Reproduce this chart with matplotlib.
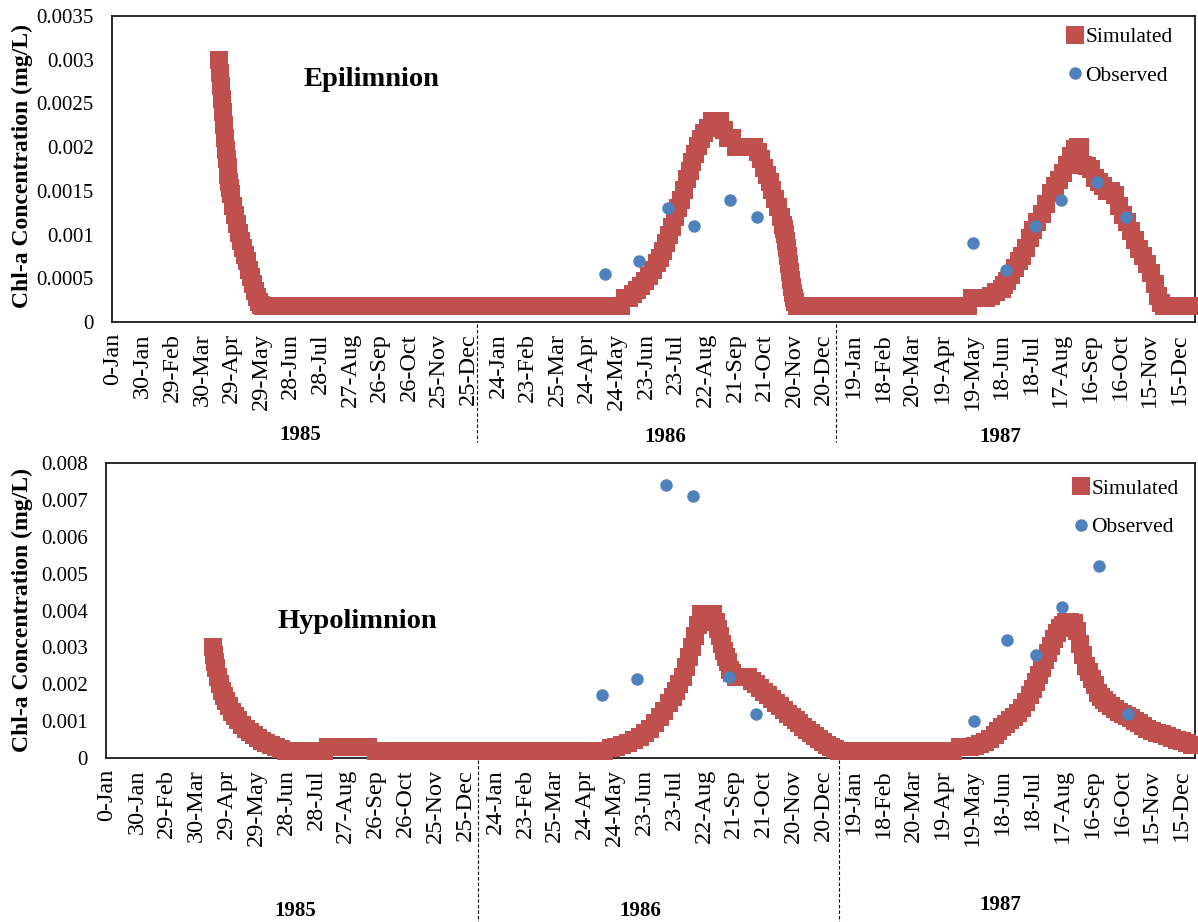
import matplotlib
matplotlib.use("Agg")
import matplotlib.pyplot as plt
from matplotlib.lines import Line2D
from matplotlib.ticker import FixedLocator

plt.rcParams['font.family'] = ['Liberation Serif', 'DejaVu Serif']

# Day numbers counted from 0-Jan-1985 (Excel serial style), one tick every 30 days
tick_days = list(range(0, 1081, 30))
tick_labels = ['0-Jan', '30-Jan', '29-Feb', '30-Mar', '29-Apr', '29-May', '28-Jun',
               '28-Jul', '27-Aug', '26-Sep', '26-Oct', '25-Nov', '25-Dec', '24-Jan',
               '23-Feb', '25-Mar', '24-Apr', '24-May', '23-Jun', '23-Jul', '22-Aug',
               '21-Sep', '21-Oct', '20-Nov', '20-Dec', '19-Jan', '18-Feb', '20-Mar',
               '19-Apr', '19-May', '18-Jun', '18-Jul', '17-Aug', '16-Sep', '16-Oct',
               '15-Nov', '15-Dec']
years = ['1985', '1986', '1987']

# Epilimnion, simulated Chl-a (mg/L)
epi_days = [107, 108, 109, 110, 111, 112, 113, 114, 115, 116, 117, 118, 119, 120,
            122, 124, 126, 128, 130, 132, 134, 136, 138, 140, 142, 144, 146, 148, 150, 152,
            160, 170, 180, 190, 200, 210, 220, 230, 240, 250, 260, 270, 280, 290, 300,
            310, 320, 330, 340, 350, 360, 370, 380, 390, 400, 410, 420, 430, 440, 450,
            460, 470, 480, 490, 500, 510,
            515, 519, 523, 527, 531, 535, 539, 543, 547, 551, 554, 557, 560, 563, 566,
            569, 572, 575, 578, 581, 584, 587, 590, 593, 596, 599, 603, 607, 611, 615,
            619, 623, 627, 631, 637, 643, 649, 653, 656, 659, 662, 665, 668, 671, 674,
            677, 679, 680, 681, 682, 683, 684, 685, 686, 687, 688, 689, 690, 691, 693,
            700, 710, 720, 730, 740, 750, 760, 770, 780, 790, 800, 810, 820, 830, 840,
            850, 860, 866,
            870, 875, 880, 884, 889, 894, 900, 903, 906, 910, 914, 918, 921, 925, 929,
            932, 936, 941, 945, 950, 954, 958, 962, 966, 970, 974, 977, 980, 983, 987,
            991, 995, 999, 1003, 1007, 1011, 1015, 1019, 1023, 1027, 1031, 1035, 1039,
            1043, 1047, 1051, 1055, 1059, 1062, 1065, 1070, 1080, 1090]
epi_sim = [0.0030, 0.00285, 0.0027, 0.00255, 0.0024, 0.00225, 0.0021, 0.00197, 0.00186,
           0.00177, 0.00168, 0.0016, 0.00153, 0.00146,
           0.00133, 0.00122, 0.00112, 0.00102, 0.00093, 0.00085, 0.00077, 0.0007, 0.0006,
           0.00052, 0.00044, 0.00036, 0.00029, 0.00023, 0.00019, 0.00018,
           0.00018, 0.00018, 0.00018, 0.00018, 0.00018, 0.00018, 0.00018, 0.00018,
           0.00018, 0.00018, 0.00018, 0.00018, 0.00018, 0.00018, 0.00018, 0.00018,
           0.00018, 0.00018, 0.00018, 0.00018, 0.00018, 0.00018, 0.00018, 0.00018,
           0.00018, 0.00018, 0.00018, 0.00018, 0.00018, 0.00018, 0.00018, 0.00018,
           0.00018, 0.00018, 0.00018, 0.00018,
           0.00018, 0.00027, 0.00028, 0.00032, 0.00037, 0.00041, 0.00047, 0.00053,
           0.00059, 0.00067, 0.00073, 0.00081, 0.0009, 0.00099, 0.00109, 0.0012, 0.0013,
           0.0014, 0.00151, 0.00163, 0.00173, 0.00183, 0.00192, 0.00201, 0.00209,
           0.00216, 0.00222, 0.0023, 0.0023, 0.0023, 0.0022, 0.0021, 0.0021, 0.0020,
           0.0020, 0.0020, 0.0020, 0.00195, 0.00186, 0.00176, 0.00168, 0.0016, 0.00151,
           0.00141, 0.00131, 0.0012, 0.00111, 0.00106, 0.00101, 0.00093, 0.00085,
           0.00075, 0.00066, 0.00057, 0.00048, 0.0004, 0.00033, 0.00028, 0.00023, 0.00018,
           0.00018, 0.00018, 0.00018, 0.00018, 0.00018, 0.00018, 0.00018, 0.00018,
           0.00018, 0.00018, 0.00018, 0.00018, 0.00018, 0.00018, 0.00018, 0.00018,
           0.00018, 0.00018,
           0.00027, 0.00027, 0.00027, 0.00027, 0.0003, 0.00034, 0.00038, 0.00042,
           0.00047, 0.00054, 0.00062, 0.0007, 0.00076, 0.00085, 0.00096, 0.00105,
           0.00114, 0.00124, 0.00135, 0.00147, 0.00155, 0.00162, 0.0017, 0.0018, 0.0019,
           0.00198, 0.002, 0.002, 0.0018, 0.00178, 0.00175, 0.00165, 0.0016, 0.00155,
           0.0015, 0.0015, 0.00145, 0.00133, 0.00122, 0.00114, 0.00104, 0.00094,
           0.00084, 0.00075, 0.00066, 0.00056, 0.00043, 0.0003, 0.00022, 0.00018,
           0.00018, 0.00018, 0.00018]

# Hypolimnion, simulated Chl-a (mg/L)
hypo_days = [107, 108, 109, 110, 112, 114, 116, 118, 120, 123, 126, 129, 132, 136, 140,
             144, 148, 152, 156, 160, 165, 170, 175, 180, 188, 196, 204, 212, 218,
             222, 226, 232, 240, 248, 256, 262,
             270, 280, 290, 300, 310, 320, 330, 340, 350, 360, 370, 380, 390, 400, 410,
             420, 430, 440, 450, 460, 470, 480, 490, 500,
             507, 512, 518, 524, 530, 536, 541, 546, 551, 556, 560, 565, 569, 572, 575,
             579, 582, 585, 588, 591, 594, 597, 601, 605, 609, 612, 614, 616, 618, 620,
             622, 624, 626, 628, 632, 636, 640, 644, 648, 652, 656, 660, 664, 668, 672,
             676, 680, 684, 688, 692, 696, 700, 704, 708, 712, 716, 720, 724, 728, 732,
             736,
             740, 750, 760, 770, 780, 790, 800, 810, 820, 830, 840, 850,
             857, 862, 867, 872, 877, 882, 887, 892, 896, 900, 904, 908, 912, 916, 920,
             924, 928, 931, 934, 937, 940, 943, 946, 949, 952, 955, 958, 961, 964, 968,
             972, 975, 978, 981, 984, 987, 990, 993, 996, 999, 1002, 1005, 1009, 1013,
             1017, 1021, 1025, 1029, 1033, 1037, 1041, 1045, 1050, 1055, 1060, 1065,
             1070, 1075, 1080, 1085, 1090]
hypo_sim = [0.003, 0.0028, 0.0026, 0.00245, 0.0022, 0.002, 0.00183, 0.00168, 0.00155,
            0.0014, 0.00126, 0.00113, 0.00102, 0.0009, 0.0008, 0.0007, 0.00062, 0.00054,
            0.00047, 0.00041, 0.00035, 0.0003, 0.00025, 0.0002, 0.0002, 0.0002, 0.0002,
            0.0002, 0.0002,
            0.0003, 0.0003, 0.0003, 0.0003, 0.0003, 0.0003, 0.0003,
            0.0002, 0.0002, 0.0002, 0.0002, 0.0002, 0.0002, 0.0002, 0.0002, 0.0002,
            0.0002, 0.0002, 0.0002, 0.0002, 0.0002, 0.0002, 0.0002, 0.0002, 0.0002,
            0.0002, 0.0002, 0.0002, 0.0002, 0.0002, 0.0002,
            0.00027, 0.0003, 0.00035, 0.00041, 0.00048, 0.00058, 0.00067, 0.0008,
            0.00095, 0.00112, 0.00128, 0.00148, 0.00166, 0.00183, 0.002, 0.0022,
            0.00248, 0.00275, 0.00302, 0.0033, 0.0036, 0.0039, 0.0039, 0.0039, 0.0039,
            0.0037, 0.0035, 0.0033, 0.0031, 0.0029, 0.00275, 0.0026, 0.0024, 0.0023,
            0.0022, 0.0022, 0.0022, 0.0022, 0.0021, 0.002, 0.0019, 0.0018, 0.0017,
            0.0016, 0.0015, 0.0014, 0.0013, 0.0012, 0.0011, 0.00102, 0.00094, 0.00085,
            0.00077, 0.00068, 0.0006, 0.00052, 0.00044, 0.00036, 0.0003, 0.00024, 0.0002,
            0.0002, 0.0002, 0.0002, 0.0002, 0.0002, 0.0002, 0.0002, 0.0002, 0.0002,
            0.0002, 0.0002, 0.0002,
            0.0003, 0.0003, 0.0003, 0.00033, 0.00038, 0.00044, 0.00052, 0.00062,
            0.00072, 0.00083, 0.00093, 0.00102, 0.0011, 0.00122, 0.00135, 0.00152,
            0.0017, 0.00186, 0.00205, 0.00225, 0.00245, 0.00265, 0.00285, 0.00305,
            0.00322, 0.0034, 0.00352, 0.00362, 0.00368, 0.0037, 0.00366, 0.00345,
            0.0031, 0.00278, 0.0025, 0.00232, 0.00215, 0.00198, 0.00175, 0.00165,
            0.00157, 0.0015, 0.00142, 0.00133, 0.00125, 0.0012, 0.00115, 0.00108,
            0.001, 0.00094, 0.00088, 0.0008, 0.00074, 0.00069, 0.00064, 0.00059,
            0.00055, 0.0005, 0.00045, 0.0004, 0.00036]

# Field observations (same sampling dates for both layers)
obs_days = [498, 533, 562, 589, 625, 652, 871, 905, 934, 960, 997, 1026]
epi_obs = [0.00055, 0.0007, 0.0013, 0.0011, 0.0014, 0.0012,
           0.0009, 0.0006, 0.0011, 0.0014, 0.0016, 0.0012]
hypo_obs = [0.0017, 0.00215, 0.0074, 0.0071, 0.0022, 0.0012,
            0.001, 0.0032, 0.0028, 0.0041, 0.0052, 0.0012]

SIM_COLOR = '#C0504D'
OBS_COLOR = '#4F81BD'
W, H = 1198, 922

fig = plt.figure(figsize=(W / 100, H / 100), dpi=100)


def frac(x0, y0, x1, y1):
    return [x0 / W, 1 - y1 / H, (x1 - x0) / W, (y1 - y0) / H]


def draw_panel(rect, xlim, days, sim, obs, ymax, ystep, name, name_xy, leg_anchor):
    ax = fig.add_axes(rect)
    ax.plot(days, sim, linestyle='none', marker='s', markersize=12.3,
            markeredgewidth=0, color=SIM_COLOR, label='Simulated',
            clip_on=False, zorder=3)
    ax.plot(obs_days, obs, linestyle='none', marker='o', markersize=9,
            markeredgewidth=0, color=OBS_COLOR, label='Observed',
            clip_on=False, zorder=4)
    ax.set_xlim(*xlim)
    ax.set_ylim(0, ymax)
    ax.xaxis.set_major_locator(FixedLocator(tick_days))
    ax.set_xticklabels(tick_labels, rotation=90, fontsize=17.5)
    yt = [i * ystep for i in range(int(round(ymax / ystep)) + 1)]
    ax.set_yticks(yt)
    ax.set_yticklabels(['0'] + ['{:g}'.format(v) for v in yt[1:]], fontsize=15)
    ax.tick_params(axis='both', length=0)
    ax.tick_params(axis='y', pad=13)
    ax.tick_params(axis='x', pad=8)
    for s in ax.spines.values():
        s.set_color('#1a1a1a')
        s.set_linewidth(1.3)
    ax.text(name_xy[0], name_xy[1], name, transform=fig.transFigure,
            fontsize=20.5, fontweight='bold', va='center', ha='left')
    ax.legend(loc='upper left', bbox_to_anchor=leg_anchor, frameon=False,
              fontsize=15.5, handlelength=0.8, handletextpad=0.1,
              labelspacing=0.85, borderpad=0, borderaxespad=0)
    return ax


ax1 = draw_panel(frac(112, 16, 1195, 322), (-1, 1096), epi_days, epi_sim, epi_obs,
                 0.0035, 0.0005, 'Epilimnion', (303 / W, 1 - 80 / H),
                 (0.881, 0.963))
ax2 = draw_panel(frac(106, 463, 1195, 758), (-1, 1093.5), hypo_days, hypo_sim, hypo_obs,
                 0.008, 0.001, 'Hypolimnion', (277 / W, 1 - 622 / H),
                 (0.887, 0.946))

# y-axis titles
for yc in (166, 610):
    fig.text(22 / W, 1 - yc / H, 'Chl-a Concentration (mg/L)', rotation=90,
             fontsize=17, fontweight='bold', ha='center', va='center')

# year separators and year labels below each panel
for xs, y0, y1 in ((477, 324, 442), (836, 324, 442), (478, 760, 922), (839, 760, 922)):
    fig.add_artist(Line2D([xs / W, xs / W], [1 - y0 / H, 1 - y1 / H],
                          transform=fig.transFigure, color='black', lw=0.8,
                          linestyle=(0, (3, 2))))
for (x, y), yr in zip(((300, 435), (665, 437), (1000, 437)), years):
    fig.text(x / W, 1 - y / H, yr, fontsize=15, fontweight='bold',
             ha='center', va='center')
for (x, y), yr in zip(((295, 911), (640, 911), (1000, 905)), years):
    fig.text(x / W, 1 - y / H, yr, fontsize=15, fontweight='bold',
             ha='center', va='center')

fig.savefig('out.png', dpi=100, facecolor='white')
